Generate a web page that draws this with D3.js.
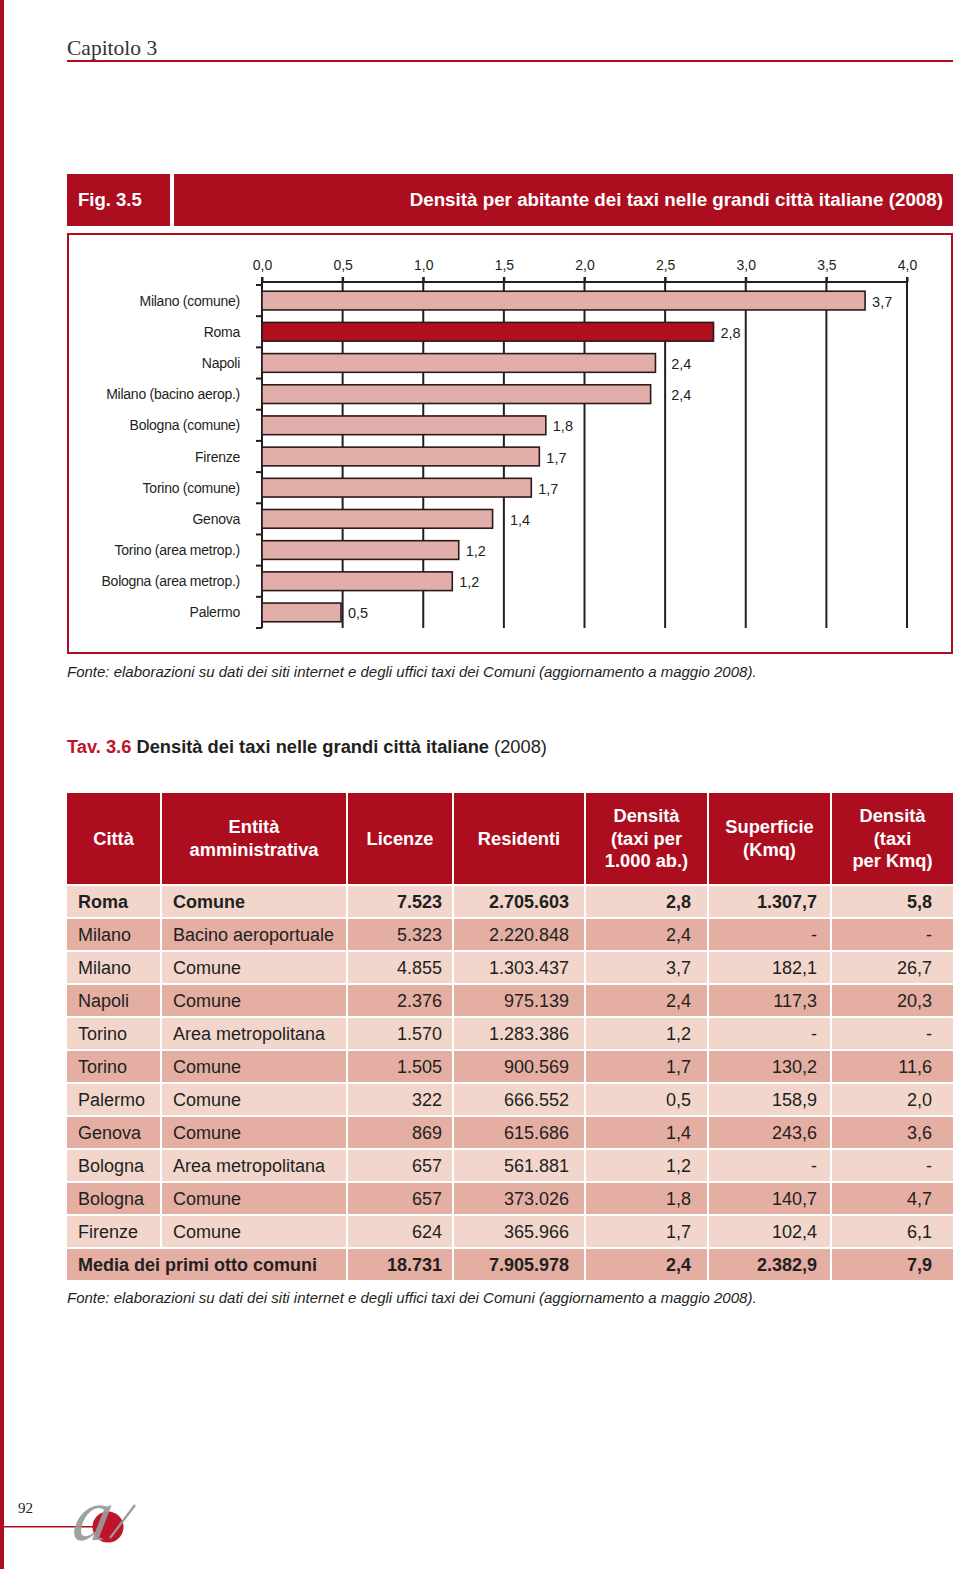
<!DOCTYPE html>
<html><head><meta charset="utf-8">
<script src="https://cdn.jsdelivr.net/npm/d3@7"></script>
<style>
html,body{margin:0;padding:0;background:#fff;}
svg{display:block;}
text{font-family:"Liberation Sans",Arial,sans-serif;}
</style></head>
<body>
<svg id="page" width="960" height="1569"></svg>
<script>
// ---- Chart data (Fig. 3.5) ----
const chartCities = ["Milano (comune)","Roma","Napoli","Milano (bacino aerop.)","Bologna (comune)","Firenze","Torino (comune)","Genova","Torino (area metrop.)","Bologna (area metrop.)","Palermo"];
const chartValues = [3.74,2.80,2.44,2.41,1.76,1.72,1.67,1.43,1.22,1.18,0.49];
const highlightCity = "Roma";
const xTicks = [0,0.5,1,1.5,2,2.5,3,3.5,4];

// ---- Table data (Tav. 3.6) ----
const tabCities = ["Roma","Milano","Milano","Napoli","Torino","Torino","Palermo","Genova","Bologna","Bologna","Firenze"];
const tabEntities = ["Comune","Bacino aeroportuale","Comune","Comune","Area metropolitana","Comune","Comune","Comune","Area metropolitana","Comune","Comune"];
const tabLicenze = [7523,5323,4855,2376,1570,1505,322,869,657,657,624];
const tabResidenti = [2705603,2220848,1303437,975139,1283386,900569,666552,615686,561881,373026,365966];
const tabDensAb = [2.8,2.4,3.7,2.4,1.2,1.7,0.5,1.4,1.2,1.8,1.7];
const tabSuperficie = [1307.7,null,182.1,117.3,null,130.2,158.9,243.6,null,140.7,102.4];
const tabDensKmq = [5.8,null,26.7,20.3,null,11.6,2.0,3.6,null,4.7,6.1];
const totalLabel = "Media dei primi otto comuni";
const totalRow = {licenze:18731, residenti:7905978, densAb:2.4, superficie:2382.9, densKmq:7.9};
const tableHeaders = [["Città"],["Entità","amministrativa"],["Licenze"],["Residenti"],["Densità","(taxi per","1.000 ab.)"],["Superficie","(Kmq)"],["Densità","(taxi","per Kmq)"]];
const boldRows = ["Roma"];

const RED = "#ad0e1f";
const LIGHT = "#f2d6cc";
const DARK = "#e4aea3";
const TXT = "#231f20";

const it = d3.formatLocale({decimal:",", thousands:".", grouping:[3], currency:["","€"]});
const fInt = it.format(",d");
const f1 = it.format(",.1f");
const fmtNull = v => v == null ? "-" : f1(v);

const svg = d3.select("#page");

// left page stripe
svg.append("rect").attr("x",0).attr("y",0).attr("width",4).attr("height",1569).attr("fill",RED);

// running header
svg.append("text").attr("x",67).attr("y",55)
  .style("font-family","'Liberation Serif',serif").attr("font-size",21.5).attr("fill","#333").text("Capitolo 3");
svg.append("rect").attr("x",67).attr("y",60).attr("width",886).attr("height",2).attr("fill",RED);

// Figure header
svg.append("rect").attr("x",67).attr("y",174).attr("width",103).attr("height",52).attr("fill",RED);
svg.append("rect").attr("x",174).attr("y",174).attr("width",779).attr("height",52).attr("fill",RED);
svg.append("text").attr("x",78).attr("y",206).attr("fill","#fff").attr("font-weight","bold").attr("font-size",18.5).text("Fig. 3.5");
svg.append("text").attr("x",943).attr("y",206).attr("text-anchor","end").attr("fill","#fff").attr("font-weight","bold").attr("font-size",18.8)
  .text("Densità per abitante dei taxi nelle grandi città italiane (2008)");

// chart frame
svg.append("rect").attr("x",68).attr("y",234).attr("width",884).attr("height",419).attr("fill","none").attr("stroke",RED).attr("stroke-width",2);

// scales
const x = d3.scaleLinear().domain([0,4]).range([262,907]);
const y = d3.scaleBand().domain(chartCities).range([285,628]).paddingInner(0.4).paddingOuter(0.2);
const axisY = 282, bottomY = 628;
const g = svg.append("g");

// gridlines
g.selectAll("line.grid").data(xTicks).join("line").attr("class","grid")
  .attr("x1",d=>x(d)).attr("x2",d=>x(d)).attr("y1",axisY-5).attr("y2",bottomY)
  .attr("stroke","#231f20").attr("stroke-width",2);

// top axis
const topAxis = d3.axisTop(x).tickValues(xTicks).tickSize(5).tickPadding(7).tickFormat(d=>it.format(".1f")(d));
const ta = g.append("g").attr("transform",`translate(0,${axisY})`).call(topAxis);
ta.select(".domain").attr("stroke","#231f20").attr("stroke-width",2).attr("d",`M${x(0)},0H${x(4)}`);
ta.selectAll(".tick line").attr("stroke","#231f20").attr("stroke-width",2);
ta.selectAll(".tick text").attr("font-size",14).attr("fill",TXT).style("font-family","'Liberation Sans',Arial,sans-serif");

// left axis ticks at band boundaries
const boundaries = d3.range(chartCities.length+1).map(i => 285 + i*(628-285)/chartCities.length);
g.selectAll("line.lt").data(boundaries).join("line").attr("class","lt")
  .attr("x1",x(0)-6).attr("x2",x(0)).attr("y1",d=>d).attr("y2",d=>d)
  .attr("stroke","#231f20").attr("stroke-width",2);

// bars
g.selectAll("rect.bar").data(chartCities).join("rect").attr("class","bar")
  .attr("x",x(0)).attr("y",d=>y(d)).attr("height",y.bandwidth())
  .attr("width",(d,i)=>x(chartValues[i])-x(0))
  .attr("fill",d=>d===highlightCity?"#b10f20":"#e2aeaa")
  .attr("stroke","#2a1a1a").attr("stroke-width",1.6);

// value labels (shifted past a gridline if they would overlap it)
function labelX(v){
  let lx = x(v) + 7;
  xTicks.forEach(t=>{ const gx = x(t); if(gx > x(v)+1 && gx >= lx-3 && gx <= lx+22) lx = gx + 6; });
  return lx;
}
g.selectAll("text.val").data(chartCities).join("text").attr("class","val")
  .attr("x",(d,i)=>labelX(chartValues[i])).attr("y",d=>y(d)+y.bandwidth()/2+6)
  .attr("font-size",14.5).attr("fill",TXT).text((d,i)=>it.format(".1f")(chartValues[i]));

// category labels
g.selectAll("text.cat").data(chartCities).join("text").attr("class","cat")
  .attr("x",240).attr("y",d=>y(d)+y.bandwidth()/2+5).attr("text-anchor","end")
  .attr("font-size",14).attr("letter-spacing",-0.25).attr("fill",TXT).text(d=>d);

// source
const fonte = "Fonte: elaborazioni su dati dei siti internet e degli uffici taxi dei Comuni (aggiornamento a maggio 2008).";
svg.append("text").attr("x",67).attr("y",677).attr("font-size",15).attr("font-style","italic").attr("fill",TXT).text(fonte);

// table title
const tt = svg.append("text").attr("x",67).attr("y",753).attr("font-size",18.3).attr("fill",TXT);
tt.append("tspan").attr("fill","#c0132a").attr("font-weight","bold").text("Tav. 3.6 ");
tt.append("tspan").attr("font-weight","bold").text("Densità dei taxi nelle grandi città italiane ");
tt.append("tspan").text("(2008)");

// table
const colEdges = [67,161,347,453,585,708,831,953];
const gap = 2;
const headTop = 793, headBot = 884, rowH = 33;
const tg = svg.append("g");
tableHeaders.forEach((lines,c)=>{
  const x0 = colEdges[c] + (c>0?gap/2:0), x1 = colEdges[c+1] - (c<6?gap/2:0);
  tg.append("rect").attr("x",x0).attr("y",headTop).attr("width",x1-x0).attr("height",headBot-headTop).attr("fill",RED);
  const lh = 22.5;
  const cy = (headTop+headBot)/2 - (lines.length-1)*lh/2;
  lines.forEach((ln,k)=>{
    tg.append("text").attr("x",(x0+x1)/2).attr("y",cy+k*lh+6).attr("text-anchor","middle")
      .attr("fill","#fff").attr("font-weight","bold").attr("font-size",18.3).text(ln);
  });
});

const rightPad = [0,0,11,16,17,14,21];
const rows = tabCities.map((c,i)=>({
  cells:[c, tabEntities[i], fInt(tabLicenze[i]), fInt(tabResidenti[i]), f1(tabDensAb[i]), fmtNull(tabSuperficie[i]), fmtNull(tabDensKmq[i])],
  bold: boldRows.includes(c) && i===0
}));
rows.push({cells:[totalLabel,null,fInt(totalRow.licenze),fInt(totalRow.residenti),f1(totalRow.densAb),f1(totalRow.superficie),f1(totalRow.densKmq)], bold:true, merge:true});

rows.forEach((r,i)=>{
  const top = headBot + gap + i*rowH;
  const h = rowH - gap;
  const fill = i%2===0 ? LIGHT : DARK;
  for(let c=0;c<7;c++){
    if(r.merge && c===1) continue;
    const x0 = colEdges[c] + (c>0?gap/2:0);
    const endC = (r.merge && c===0) ? 2 : c+1;
    const x1 = colEdges[endC] - (endC<7?gap/2:0);
    tg.append("rect").attr("x",x0).attr("y",top).attr("width",x1-x0).attr("height",h).attr("fill",fill);
    const t = tg.append("text").attr("y",top+h/2+6).attr("font-size",18).attr("fill",TXT)
      .attr("font-weight",r.bold?"bold":"normal").text(r.cells[c]);
    if(c<2){ t.attr("x",c===0?78:173); }
    else { t.attr("x",colEdges[c+1]-rightPad[c]).attr("text-anchor","end"); }
  }
});

svg.append("text").attr("x",67).attr("y",1303).attr("font-size",15).attr("font-style","italic").attr("fill",TXT).text(fonte);

// footer: page number and logo
svg.append("text").attr("x",18).attr("y",1513).style("font-family","'Liberation Serif',serif").attr("font-size",15).attr("fill","#222").text("92");
svg.append("rect").attr("x",4).attr("y",1526).attr("width",92).attr("height",1.5).attr("fill",RED);
svg.append("circle").attr("cx",108).attr("cy",1527).attr("r",15.5).attr("fill","#c0142a");
svg.append("text").attr("transform","translate(70,1540) skewX(-12)").style("font-family","'Liberation Serif',serif").attr("font-style","italic")
  .attr("font-size",74).attr("fill","#9a9a9a").attr("opacity",0.92).text("a");
svg.append("line").attr("x1",110).attr("y1",1538).attr("x2",135).attr("y2",1505).attr("stroke","#9a9a9a").attr("stroke-width",2.2);
</script>
</body></html>
